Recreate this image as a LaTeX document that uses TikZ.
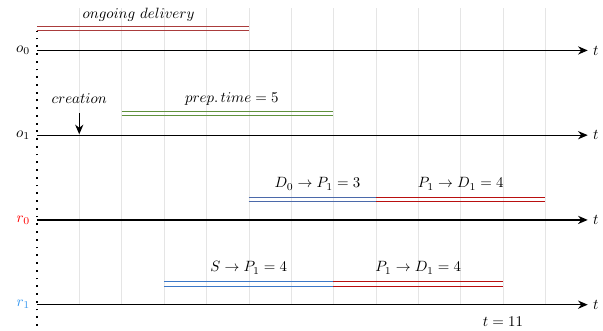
\documentclass[tikz,border=0pt]{standalone}
\usepackage{amsmath}
\usepackage{xcolor}
\usepackage{tikz}
\usetikzlibrary{arrows.meta}

\definecolor{rone}{RGB}{51,150,240}
\definecolor{ongoing}{RGB}{170,60,60}
\definecolor{prep}{RGB}{95,145,60}
\definecolor{toshop}{RGB}{75,105,170}
\definecolor{tocust}{RGB}{185,15,15}
\definecolor{rshop}{RGB}{60,120,200}

\tikzset{
  bar/.style={line width=0.7pt},
  timeaxis/.style={thick, -{Stealth[length=6.5pt,width=5.5pt]}},
}

\begin{document}
\begin{tikzpicture}
\useasboundingbox (-0.87,-0.61) rectangle (13.36,7.19);
% grid
\foreach \x in {1,...,12}
  \draw[gray!20,very thin] (\x,0) -- (\x,7);
\draw[very thick,loosely dotted] (0,-0.5) -- (0,6.45);
% time axes
\foreach \y/\name/\lab/\col in {6/oz/o_0/black, 4/oo/o_1/black, 2/rz/r_0/red, 0/ro/r_1/rone} {
  \coordinate (\name s) at (0,\y);
  \node[left, text=\col, xshift=-1pt] (\name lab) at (\name s) {$\lab$};
  \node[right] (\name t) at (13,\y) {$t$};
  \draw[timeaxis] (\name s) -- (\name t.west);
}
% o0
\draw[bar, ongoing] (0,6.46) -- (5,6.46) (0,6.56) -- (5,6.56);
\node (ongo) at (2.4,6.84) {$ongoing\ delivery$};
% o1
\node (creation) at (1,4.86) {$creation$};
\coordinate (crtop) at (1,4.52);
\coordinate (crbot) at (1,4.02);
\draw[timeaxis] (crtop) -- (crbot);
\draw[bar, prep] (2,4.46) -- (7,4.46) (2,4.56) -- (7,4.56);
\node (preptime) at (4.6,4.86) {$prep.\,time = 5$};
% r0
\draw[bar, toshop] (5,2.44) -- (8,2.44) (5,2.54) -- (8,2.54);
\draw[bar, tocust] (8,2.44) -- (12,2.44) (8,2.54) -- (12,2.54);
\node (dzp) at (6.62,2.85) {$D_0 \rightarrow P_1 = 3$};
\node (pdz) at (10,2.85) {$P_1 \rightarrow D_1 = 4$};
% r1
\draw[bar, rshop] (3,0.44) -- (7,0.44) (3,0.54) -- (7,0.54);
\draw[bar, tocust] (7,0.44) -- (11,0.44) (7,0.54) -- (11,0.54);
\node (sp) at (5,0.87) {$S \rightarrow P_1 = 4$};
\node (pdo) at (9,0.87) {$P_1 \rightarrow D_1 = 4$};
\node (tend) at (11,-0.39) {$t = 11$};
\end{tikzpicture}
\end{document}
